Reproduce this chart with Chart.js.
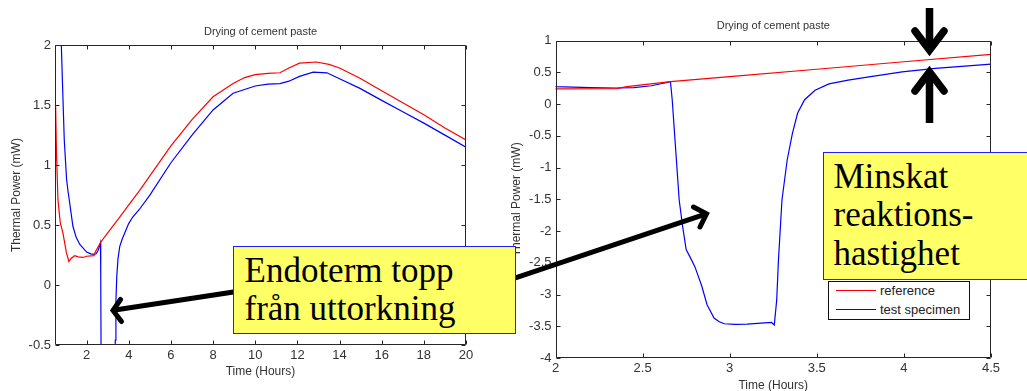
<!DOCTYPE html>
<html lang="sv">
<head>
<meta charset="UTF-8">
<title>Drying of cement paste</title>
<script src="https://cdn.jsdelivr.net/npm/chart.js"></script>
<style>
    body { margin: 0; background: #fff; }
    #stage { position: relative; width: 1027px; height: 391px; overflow: hidden; }
    canvas { position: absolute; top: 0; }
    #overviewChart { left: 0; }
    #detailChart { left: 500px; }
    #arrows { position: absolute; left: 0; top: 0; }

    /* yellow callout boxes */
    .note {
        position: absolute;
        box-sizing: border-box;
        background: #ffff66;
        border: 1.5px solid #1f1fff;
        font-family: "Liberation Serif", "Times New Roman", serif;
        font-size: 35px;
        line-height: 38.5px;
        color: #000;
        white-space: nowrap;
    }
    #noteDrying { left: 233px; top: 246px; width: 283px; height: 88px; padding: 4.7px 0 0 10.5px; }
    #noteRate { left: 823px; top: 152px; width: 220px; height: 128px; padding: 4.7px 0 0 9.5px; }

    #legend {
        position: absolute; left: 828px; top: 281px; width: 142px; height: 39px;
        box-sizing: border-box; border: 1px solid #111; background: #fff;
        font: 13px "Liberation Sans", Arial, sans-serif; color: #222;
    }
    .legend-row { position: absolute; left: 0; width: 100%; height: 17px; }
    .legend-row i { position: absolute; left: 7px; top: 8px; width: 40px; height: 1px; }
    .legend-row span { position: absolute; left: 51px; top: 0; line-height: 17px; }
</style>
</head>
<body>
<div id="stage">
    <canvas id="overviewChart" width="500" height="391"></canvas>
    <canvas id="detailChart" width="527" height="391"></canvas>

    <svg id="arrows" width="1027" height="391">
        <g stroke="#000" fill="none" stroke-linejoin="miter">
            <!-- arrow to the endothermic dip -->
            <line x1="250" y1="289.5" x2="115" y2="310" stroke-width="5"/>
            <polyline points="120.5,299.5 113,310.5 121.5,321.5" stroke-width="5" stroke-linecap="round"/>
            <!-- arrow into the detail plot -->
            <line x1="480" y1="289.7" x2="704" y2="214.7" stroke-width="5"/>
            <polyline points="693.5,207 706.5,213.8 700,227" stroke-width="5" stroke-linecap="round"/>
            <!-- gap between the two curves -->
            <line x1="929.5" y1="8" x2="929.5" y2="50" stroke-width="7.5"/>
            <polyline points="915,31 929.5,50 944,31" stroke-width="7.5" stroke-linecap="round"/>
            <line x1="929.5" y1="72" x2="929.5" y2="123" stroke-width="7.5"/>
            <polyline points="915,91 929.5,72 944,91" stroke-width="7.5" stroke-linecap="round"/>
        </g>
    </svg>

    <div id="legend"></div>

    <div class="note" id="noteDrying">Endoterm topp<br>från uttorkning</div>
    <div class="note" id="noteRate">Minskat<br>reaktions-<br>hastighet</div>
</div>

<script>
    // Thermal power of the two samples, hours vs mW
    const refHours = [0.53, 0.57, 0.64, 0.75, 0.88, 1.04, 1.16, 1.25, 1.43, 1.6, 1.83, 2.0, 2.35, 2.41, 2.66,
        3.0, 3.5, 4.0, 4.5, 5.0, 6.0, 7.0, 8.0, 8.95, 9.5, 10.0, 10.6, 11.17, 11.6, 12.1, 12.9, 13.5,
        14.0, 14.97, 16.0, 17.0, 18.0, 19.0, 20.0];
    const refPower = [1.49, 1.10, 0.71, 0.52, 0.43, 0.27, 0.196, 0.22, 0.245, 0.235, 0.23, 0.24, 0.245, 0.276, 0.355,
        0.435, 0.55, 0.668, 0.785, 0.91, 1.16, 1.38, 1.57, 1.68, 1.73, 1.755, 1.765, 1.77, 1.81, 1.85, 1.86, 1.84,
        1.81, 1.725, 1.62, 1.52, 1.42, 1.31, 1.21];

    const testHours = [0.80, 0.87, 0.94, 1.05, 1.12, 1.20, 1.35, 1.50, 1.67, 2.0, 2.2, 2.35, 2.45, 2.55, 2.62, 2.66,
        2.67, 2.69, 2.71, 2.73, 2.75, 2.78, 2.80, 2.84, 2.87, 2.91, 2.94, 2.97, 3.03, 3.10, 3.16, 3.24, 3.256,
        3.27, 3.28, 3.30, 3.33, 3.36, 3.39, 3.43, 3.49, 3.57, 3.68, 3.80, 3.99, 4.18, 4.5,
        5.0, 6.0, 7.0, 8.0, 8.95, 10.0, 10.6, 11.17, 11.6, 12.1, 12.75, 13.4, 14.0, 14.97, 16.0, 17.0, 18.0, 19.0, 20.0];
    const testPower = [2.0, 1.60, 1.21, 0.88, 0.78, 0.68, 0.49, 0.40, 0.34, 0.275, 0.26, 0.255, 0.26, 0.29, 0.33, 0.355,
        0.07, -0.72, -1.51, -1.93, -2.29, -2.45, -2.56, -2.87, -3.16, -3.37, -3.43, -3.46, -3.47, -3.465, -3.455, -3.44, -3.48,
        -3.08, -2.45, -1.51, -0.88, -0.46, -0.14, 0.07, 0.22, 0.32, 0.38, 0.43, 0.51, 0.565, 0.63,
        0.75, 1.02, 1.25, 1.46, 1.60, 1.66, 1.675, 1.68, 1.70, 1.74, 1.775, 1.77, 1.72, 1.64, 1.54, 1.445, 1.35, 1.25, 1.15];

    const seriesNames = ['reference', 'test specimen'];
    const seriesColors = ['#ff0000', '#0000ff'];

    const overviewXTicks = [2, 4, 6, 8, 10, 12, 14, 16, 18, 20];
    const overviewYTicks = [-0.5, 0, 0.5, 1, 1.5, 2];
    const detailXTicks = [2, 2.5, 3, 3.5, 4, 4.5];
    const detailYTicks = [-4, -3.5, -3, -2.5, -2, -1.5, -1, -0.5, 0, 0.5, 1];

    const chartTitle = 'Drying of cement paste';
    const xTitle = 'Time (Hours)';
    const yTitle = 'Thermal Power (mW)';

    Chart.defaults.font.family = '"Liberation Sans", Arial, sans-serif';

    const textColor = '#333';

    function toPoints(xs, ys) {
        return xs.map((x, i) => ({ x: x, y: ys[i] }));
    }

    // matlab style frame: box round the plot and inward ticks on every side
    const axesBox = {
        id: 'axesBox',
        afterDraw(chart) {
            const { ctx, chartArea: a, scales: { x, y } } = chart;
            const l = Math.round(a.left) + 0.5, r = Math.round(a.right) - 0.5;
            const t = Math.round(a.top) + 0.5, b = Math.round(a.bottom) - 0.5;
            ctx.save();
            ctx.strokeStyle = '#262626';
            ctx.lineWidth = 1;
            ctx.beginPath();
            ctx.rect(l, t, r - l, b - t);
            x.ticks.forEach(tk => {
                const px = Math.round(x.getPixelForValue(tk.value)) + 0.5;
                ctx.moveTo(px, b); ctx.lineTo(px, b - 4);
                ctx.moveTo(px, t); ctx.lineTo(px, t + 4);
            });
            y.ticks.forEach(tk => {
                const py = Math.round(y.getPixelForValue(tk.value)) + 0.5;
                ctx.moveTo(l, py); ctx.lineTo(l + 4, py);
                ctx.moveTo(r, py); ctx.lineTo(r - 4, py);
            });
            ctx.stroke();
            ctx.restore();
        }
    };

    function makeChart(id, cfg) {
        const datasets = [
            { label: seriesNames[0], data: toPoints(refHours, refPower) },
            { label: seriesNames[1], data: toPoints(testHours, testPower) }
        ].map((ds, i) => Object.assign(ds, {
            showLine: true,
            borderColor: seriesColors[i],
            backgroundColor: seriesColors[i],
            borderWidth: 1.2,
            pointRadius: 0,
            tension: 0
        }));

        const tickFont = { size: 13 };
        const noGrid = { display: false, drawTicks: false };
        return new Chart(document.getElementById(id), {
            type: 'scatter',
            data: { datasets: datasets },
            options: {
                responsive: false,
                animation: false,
                devicePixelRatio: 1,
                layout: { padding: { right: cfg.padRight } },
                plugins: {
                    legend: { display: false },
                    tooltip: { enabled: false },
                    title: {
                        display: true,
                        text: chartTitle,
                        fullSize: false,
                        color: textColor,
                        font: { size: 11, weight: 'normal' },
                        padding: { top: cfg.titleTop, bottom: cfg.titleBottom }
                    }
                },
                scales: {
                    x: {
                        type: 'linear',
                        min: cfg.xMin,
                        max: cfg.xMax,
                        afterBuildTicks: s => { s.ticks = cfg.xTicks.map(v => ({ value: v })); },
                        afterFit: s => { s.height = cfg.xAxisHeight; },
                        grid: noGrid,
                        border: { display: false },
                        ticks: { padding: 3, color: textColor, font: tickFont, maxRotation: 0, autoSkip: false,
                                 callback: v => String(v) },
                        title: { display: true, text: xTitle, color: textColor, font: { size: 12 },
                                 padding: { top: 0, bottom: cfg.xTitleBottom } }
                    },
                    y: {
                        type: 'linear',
                        min: cfg.yMin,
                        max: cfg.yMax,
                        afterBuildTicks: s => { s.ticks = cfg.yTicks.map(v => ({ value: v })); },
                        afterFit: s => { s.width = cfg.yAxisWidth; },
                        grid: noGrid,
                        border: { display: false },
                        ticks: { padding: 4, color: textColor, font: tickFont, autoSkip: false,
                                 callback: v => String(v) },
                        title: { display: true, text: yTitle, color: textColor, font: { size: 12 },
                                 padding: { top: 9.5, bottom: 0 } }
                    }
                }
            },
            plugins: [axesBox]
        });
    }

    const overview = makeChart('overviewChart', {
        xMin: 0.5, xMax: 20, yMin: -0.5, yMax: 2,
        xTicks: overviewXTicks, yTicks: overviewYTicks,
        padRight: 34, xAxisHeight: 46, yAxisWidth: 55,
        titleTop: 25.4, titleBottom: 6.6, xTitleBottom: 11.8
    });

    const detail = makeChart('detailChart', {
        xMin: 2, xMax: 4.5, yMin: -4, yMax: 1,
        xTicks: detailXTicks, yTicks: detailYTicks,
        padRight: 36, xAxisHeight: 33, yAxisWidth: 55.5,
        titleTop: 19.4, titleBottom: 8.1, xTitleBottom: -2
    });

    // legend of the detail plot, built from its datasets
    const legendBox = document.getElementById('legend');
    detail.data.datasets.forEach((ds, i) => {
        const row = document.createElement('div');
        row.className = 'legend-row';
        row.style.top = (i * 18.6) + 'px';
        row.innerHTML = '<i style="background:' + ds.borderColor + '"></i><span>' + ds.label + '</span>';
        legendBox.appendChild(row);
    });
</script>
</body>
</html>
